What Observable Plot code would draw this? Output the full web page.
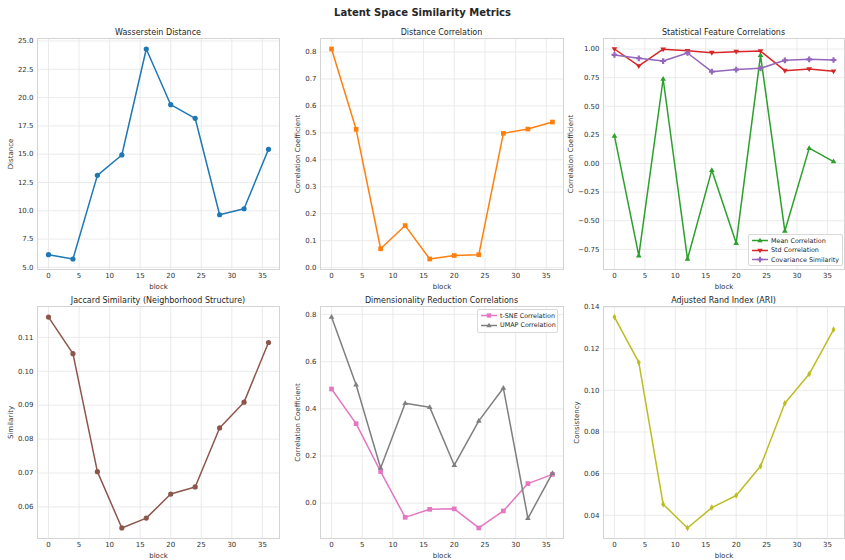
<!DOCTYPE html>
<html><head><meta charset="utf-8">
<script src="https://cdn.jsdelivr.net/npm/d3@7"></script>
<script src="https://cdn.jsdelivr.net/npm/@observablehq/plot@0.6"></script>
<style>
body{margin:0;background:#fff;font-family:"DejaVu Sans",sans-serif;}
#root{position:relative;width:845px;height:560px;overflow:hidden;background:#fff;}
.main{position:absolute;left:0;width:845px;top:7px;text-align:center;font-weight:bold;font-size:10px;color:#262626;}
.ptitle{position:absolute;font-size:8px;color:#262626;white-space:nowrap;transform:translate(-50%,-50%);}
.panel{position:absolute;}
.legend{position:absolute;background:rgba(255,255,255,0.85);border:1px solid #d9d9d9;border-radius:2px;font-size:6.4px;color:#262626;box-sizing:border-box;}
.legend .row{position:absolute;left:0;display:flex;align-items:center;white-space:nowrap;}
</style></head>
<body><div id="root"><div class="main">Latent Space Similarity Metrics</div></div>
<script>
// ---- data ----
const blocks = [0, 4, 8, 12, 16, 20, 24, 28, 32, 36];
const xTicks = [0, 5, 10, 15, 20, 25, 30, 35];
const wasserstein = [6.12, 5.74, 13.13, 14.93, 24.29, 19.37, 18.17, 9.65, 10.18, 15.43];
const distCorr = [0.811, 0.513, 0.070, 0.156, 0.032, 0.045, 0.048, 0.498, 0.514, 0.540];
const meanCorr = [0.241, -0.805, 0.738, -0.834, -0.058, -0.695, 0.945, -0.590, 0.134, 0.017];
const stdCorr = [1.000, 0.852, 0.998, 0.985, 0.968, 0.977, 0.982, 0.811, 0.826, 0.805];
const covSim = [0.948, 0.919, 0.895, 0.965, 0.802, 0.820, 0.831, 0.901, 0.910, 0.904];
const jaccard = [0.1160, 0.1052, 0.0704, 0.0538, 0.0567, 0.0638, 0.0659, 0.0833, 0.0909, 0.1085];
const tsneCorr = [0.484, 0.337, 0.134, -0.060, -0.026, -0.024, -0.105, -0.033, 0.083, 0.122];
const umapCorr = [0.789, 0.502, 0.149, 0.424, 0.407, 0.161, 0.349, 0.488, -0.064, 0.127];
const ari = [0.1352, 0.1134, 0.0453, 0.0339, 0.0437, 0.0495, 0.0635, 0.0938, 0.1078, 0.1292];

const titles = ["Wasserstein Distance", "Distance Correlation", "Statistical Feature Correlations",
  "Jaccard Similarity (Neighborhood Structure)", "Dimensionality Reduction Correlations", "Adjusted Rand Index (ARI)"];
const yLabels = ["Distance", "Correlation Coefficient", "Correlation Coefficient", "Similarity", "Correlation Coefficient", "Consistency"];

// ---- symbols ----
const triUp = {draw(c, s){const r=Math.sqrt(s/Math.PI)*1.15; c.moveTo(0,-r); c.lineTo(r*0.95,r*0.6); c.lineTo(-r*0.95,r*0.6); c.closePath();}};
const triDown = {draw(c, s){const r=Math.sqrt(s/Math.PI)*1.15; c.moveTo(0,r); c.lineTo(r*0.95,-r*0.6); c.lineTo(-r*0.95,-r*0.6); c.closePath();}};
const plusSym = {draw(c, s){const r=Math.sqrt(s/Math.PI)*1.1, w=r*0.38; c.moveTo(-w,-r); c.lineTo(w,-r); c.lineTo(w,-w); c.lineTo(r,-w); c.lineTo(r,w); c.lineTo(w,w); c.lineTo(w,r); c.lineTo(-w,r); c.lineTo(-w,w); c.lineTo(-r,w); c.lineTo(-r,-w); c.lineTo(-w,-w); c.closePath();}};
const thinDiamond = {draw(c, s){const r=Math.sqrt(s/Math.PI)*1.25; c.moveTo(0,-r); c.lineTo(r*0.6,0); c.lineTo(0,r); c.lineTo(-r*0.6,0); c.closePath();}};
const squareSym = {draw(c, s){const r=Math.sqrt(s/Math.PI)*0.9; c.rect(-r,-r,2*r,2*r);}};
const circleSym = {draw(c, s){const r=Math.sqrt(s/Math.PI); c.moveTo(r,0); c.arc(0,0,r,0,2*Math.PI);}};

const mk = (vals, name, color, symbol) => ({rows: blocks.map((b,i)=>({block:b, value:vals[i]})), name, color, symbol});

// frames: [left, top, width, height]
const frames = [[37,38,242,231],[320,38,243,231],[603,38,241,231],[37,306,242,232],[320,306,243,232],[603,306,241,232]];
const panels = [
  {series:[mk(wasserstein,"Wasserstein","#1f77b4",circleSym)], yTicks:[5,7.5,10,12.5,15,17.5,20,22.5,25], fmt:d3.format(".1f"), labelOff:29},
  {series:[mk(distCorr,"Distance Correlation","#ff7f0e",squareSym)], yTicks:[0,0.1,0.2,0.3,0.4,0.5,0.6,0.7,0.8], fmt:d3.format(".1f"), labelOff:25},
  {series:[mk(meanCorr,"Mean Correlation","#2ca02c",triUp), mk(stdCorr,"Std Correlation","#d62728",triDown), mk(covSim,"Covariance Similarity","#9467bd",plusSym)],
   yTicks:[-0.75,-0.5,-0.25,0,0.25,0.5,0.75,1], fmt:d3.format(".2f"), labelOff:35, legend:[748,234,95,32]},
  {series:[mk(jaccard,"Jaccard","#8c564b",circleSym)], yTicks:[0.06,0.07,0.08,0.09,0.10,0.11], fmt:d3.format(".2f"), labelOff:29},
  {series:[mk(tsneCorr,"t-SNE Correlation","#e377c2",squareSym), mk(umapCorr,"UMAP Correlation","#7f7f7f",triUp)],
   yTicks:[0,0.2,0.4,0.6,0.8], fmt:d3.format(".1f"), labelOff:25, legend:[477,309,81,24]},
  {series:[mk(ari,"ARI","#bcbd22",thinDiamond)], yTicks:[0.04,0.06,0.08,0.10,0.12,0.14], fmt:d3.format(".2f"), labelOff:29},
];

const root = document.getElementById("root");
const ML = 40, MR = 4, MT = 4, MB = 26;

panels.forEach((p, i) => {
  const [fl, ft, fw, fh] = frames[i];
  const all = p.series.flatMap(s => s.rows.map(r => r.value));
  const lo = d3.min(all), hi = d3.max(all), pad = (hi - lo) * 0.05;
  const marks = [
    Plot.gridX(xTicks, {stroke:"#e6e6e6", strokeOpacity:1, strokeWidth:0.8}),
    Plot.gridY(p.yTicks, {stroke:"#e6e6e6", strokeOpacity:1, strokeWidth:0.8}),
    Plot.frame({stroke:"#d4d4d4", strokeWidth:1}),
  ];
  p.series.forEach(s => {
    marks.push(Plot.line(s.rows, {x:"block", y:"value", stroke:s.color, strokeWidth:1.5}));
    marks.push(Plot.dot(s.rows, {x:"block", y:"value", fill:s.color, stroke:"none", symbol:() => s.symbol, r:2.6}));
  });
  const svg = Plot.plot({
    width: fw + ML + MR, height: fh + MT + MB,
    marginLeft: ML, marginRight: MR, marginTop: MT, marginBottom: MB,
    style: {fontFamily:"DejaVu Sans, sans-serif", fontSize:"7px", color:"#333", background:"transparent", overflow:"visible"},
    symbol: {type:"identity"},
    x: {domain:[-1.8, 37.8], ticks:xTicks, tickSize:0, tickPadding:4, label:"block", labelAnchor:"center", labelArrow:"none", labelOffset:19},
    y: {domain:[lo - pad, hi + pad], ticks:p.yTicks, tickFormat:p.fmt, tickSize:0, tickPadding:4, label:yLabels[i], labelAnchor:"center", labelArrow:"none", labelOffset:p.labelOff},
    marks
  });
  svg.classList.add("panel");
  svg.style.left = (fl - ML) + "px";
  svg.style.top = (ft - MT) + "px";
  root.appendChild(svg);

  const t = document.createElement("div");
  t.className = "ptitle";
  t.textContent = titles[i];
  t.style.left = (fl + fw / 2) + "px";
  t.style.top = (ft - 6) + "px";
  root.appendChild(t);

  if (p.legend) {
    const [lx, ly, lw, lh] = p.legend;
    const lg = document.createElement("div");
    lg.className = "legend";
    Object.assign(lg.style, {left:lx+"px", top:ly+"px", width:lw+"px", height:lh+"px"});
    p.series.forEach((s, k) => {
      const row = document.createElement("div");
      row.className = "row";
      row.style.top = (1 + k * 9.6) + "px";
      row.style.height = "9px";
      const sv = d3.create("svg").attr("width", 20).attr("height", 9).style("flex", "none");
      sv.append("line").attr("x1", 3).attr("x2", 19).attr("y1", 4.5).attr("y2", 4.5).attr("stroke", s.color).attr("stroke-width", 1.5);
      const path = d3.path(); s.symbol.draw(path, Math.PI * 2.4 * 2.4);
      sv.append("path").attr("d", path.toString()).attr("transform", "translate(11,4.5)").attr("fill", s.color);
      row.appendChild(sv.node());
      const tx = document.createElement("span");
      tx.textContent = s.name; tx.style.marginLeft = "2px";
      row.appendChild(tx);
      lg.appendChild(row);
    });
    root.appendChild(lg);
  }
});
</script></body></html>
